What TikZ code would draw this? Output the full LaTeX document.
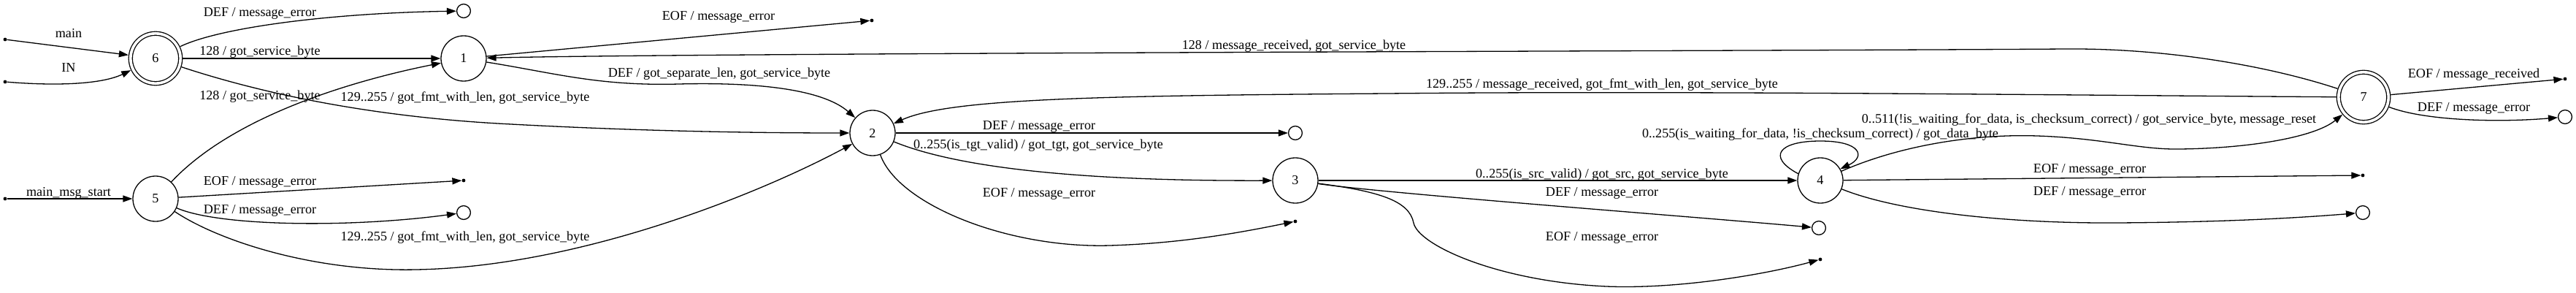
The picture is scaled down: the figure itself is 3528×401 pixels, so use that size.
\documentclass[tikz,border=0pt]{standalone}
\usepackage{fontspec}
\setmainfont{Liberation Serif}
\usetikzlibrary{arrows.meta}
\begin{document}
\begin{tikzpicture}[x=1pt,y=-1pt,
  every node/.style={font=\fontsize{18.15}{21}\selectfont},
  state/.style={circle,draw,line width=1.3pt,minimum size=62pt,inner sep=0pt},
  accstate/.style={circle,draw,line width=1.3pt,double,double distance=3.7pt,minimum size=68.4pt,inner sep=0pt,outer sep=3.2pt},
  dotnode/.style={circle,fill,inner sep=0pt,minimum size=4.8pt},
  final/.style={circle,draw,line width=1.3pt,inner sep=0pt,minimum size=18.8pt},
  edge/.style={-{Triangle[length=13pt,width=9pt]},line width=1.3pt},
  lbl/.style={anchor=base,inner sep=0pt}]
\useasboundingbox (0,0) rectangle (3528,401);
% states
\node[accstate] (n6) at (213,80) {6};
\node[state] (n1) at (635,80) {1};
\node[state] (n5) at (213,272) {5};
\node[state] (n2) at (1195,182) {2};
\node[state] (n3) at (1774,247) {3};
\node[state] (n4) at (2493,247) {4};
\node[accstate] (n7) at (3237,133) {7};
% start points
\node[dotnode] (s1) at (7,54) {};
\node[dotnode] (s2) at (7,112) {};
\node[dotnode] (s3) at (7,272) {};
% final targets
\node[final] (f6def) at (635,15) {};
\node[dotnode] (f5eof) at (635,247) {};
\node[final] (f5def) at (635,291) {};
\node[dotnode] (f1eof) at (1194,28) {};
\node[final] (f2def) at (1774,182) {};
\node[dotnode] (f2eof) at (1774,303) {};
\node[final] (f3def) at (2491,312) {};
\node[dotnode] (f3eof) at (2493,355) {};
\node[dotnode] (f4eof) at (3236,240) {};
\node[final] (f4def) at (3236,291) {};
\node[dotnode] (f7eof) at (3513,108) {};
\node[final] (f7def) at (3513,160) {};
% edges
\draw[edge] (s1) -- (n6);
\draw[edge] (s2) .. controls (80,118) and (140,115) .. (n6);
\draw[edge] (s3) -- (n5);
\draw[edge] (n6) .. controls (300,38) and (450,18) .. (f6def);
\draw[edge] (n6) -- (n1);
\draw[edge] (n6) .. controls (350,125) and (500,160) .. (700,170) .. controls (850,178) and (1000,182) .. (n2);
\draw[edge] (n5) .. controls (320,158) and (485,110) .. (n1);
\draw[edge] (n5) -- (f5eof);
\draw[edge] (n5) .. controls (300,310) and (480,312) .. (f5def);
\draw[edge] (n5) .. controls (300,330) and (430,372) .. (570,369) .. controls (800,365) and (1050,260) .. (n2);
\draw[edge] (n1) -- (f1eof);
\draw[edge] (n1) .. controls (760,100) and (820,118) .. (930,115) .. controls (1050,112) and (1130,125) .. (n2);
\draw[edge] (n7) .. controls (3100,88) and (2960,66) .. (2830,67) .. controls (2400,70) and (1000,72) .. (n1);
\draw[edge] (n7) .. controls (2800,130) and (2300,124) .. (1900,128) .. controls (1500,131) and (1300,135) .. (n2);
\draw[edge] (n2) -- (f2def);
\draw[edge] (n2) .. controls (1300,225) and (1450,248) .. (n3);
\draw[edge] (n2) .. controls (1230,280) and (1380,340) .. (1520,336) .. controls (1620,333) and (1700,318) .. (f2eof);
\draw[edge] (n3) -- (n4);
\draw[edge] (n3) .. controls (1900,265) and (2300,295) .. (f3def);
\draw[edge] (n3) .. controls (1890,262) and (1930,275) .. (1936,305) .. controls (1942,335) and (2050,385) .. (2200,392) .. controls (2300,396) and (2420,375) .. (f3eof);
\draw[edge] (n4.163) .. controls (2420,215) and (2435,193) .. (2493,193) .. controls (2550,193) and (2555,215) .. (n4.30);
\draw[edge] (n4) .. controls (2600,200) and (2700,183) .. (2790,186) .. controls (2880,189) and (2930,205) .. (2985,204) .. controls (3080,203) and (3170,188) .. (n7);
\draw[edge] (n4) -- (f4eof);
\draw[edge] (n4) .. controls (2600,290) and (2750,306) .. (2900,305) .. controls (3050,304) and (3150,298) .. (f4def);
\draw[edge] (n7) -- (f7eof);
\draw[edge] (n7) .. controls (3320,165) and (3420,168) .. (f7def);
% labels
\node[lbl] (lmain) at (94,52) {main};
\node[lbl] (lin) at (94,99) {IN};
\node[lbl] (lmms) at (94,268) {main\_msg\_start};
\node[lbl] (l6def) at (356,23) {DEF / message\_error};
\node[lbl] (l61) at (356,76) {128 / got\_service\_byte};
\node[lbl] (l51) at (356,136) {128 / got\_service\_byte};
\node[lbl] (l62) at (637,139) {129..255 / got\_fmt\_with\_len, got\_service\_byte};
\node[lbl] (l5eof) at (356,253) {EOF / message\_error};
\node[lbl] (l5def) at (356,292) {DEF / message\_error};
\node[lbl] (l52) at (637,329) {129..255 / got\_fmt\_with\_len, got\_service\_byte};
\node[lbl] (l1eof) at (984,28) {EOF / message\_error};
\node[lbl] (l12) at (985,106) {DEF / got\_separate\_len, got\_service\_byte};
\node[lbl] (l71) at (1772,68) {128 / message\_received, got\_service\_byte};
\node[lbl] (l72) at (2194,121) {129..255 / message\_received, got\_fmt\_with\_len, got\_service\_byte};
\node[lbl] (l2def) at (1423,177) {DEF / message\_error};
\node[lbl] (l23) at (1422,203) {0..255(is\_tgt\_valid) / got\_tgt, got\_service\_byte};
\node[lbl] (l2eof) at (1423,269) {EOF / message\_error};
\node[lbl] (l34) at (2194,243) {0..255(is\_src\_valid) / got\_src, got\_service\_byte};
\node[lbl] (l3def) at (2194,268) {DEF / message\_error};
\node[lbl] (l3eof) at (2194,329) {EOF / message\_error};
\node[lbl] (l44) at (2493,188) {0..255(is\_waiting\_for\_data, !is\_checksum\_correct) / got\_data\_byte};
\node[lbl] (l47) at (2861,168) {0..511(!is\_waiting\_for\_data, is\_checksum\_correct) / got\_service\_byte, message\_reset};
\node[lbl] (l4eof) at (2862,236) {EOF / message\_error};
\node[lbl] (l4def) at (2862,267) {DEF / message\_error};
\node[lbl] (l7eof) at (3388,107) {EOF / message\_received};
\node[lbl] (l7def) at (3388,153) {DEF / message\_error};
\end{tikzpicture}
\end{document}
